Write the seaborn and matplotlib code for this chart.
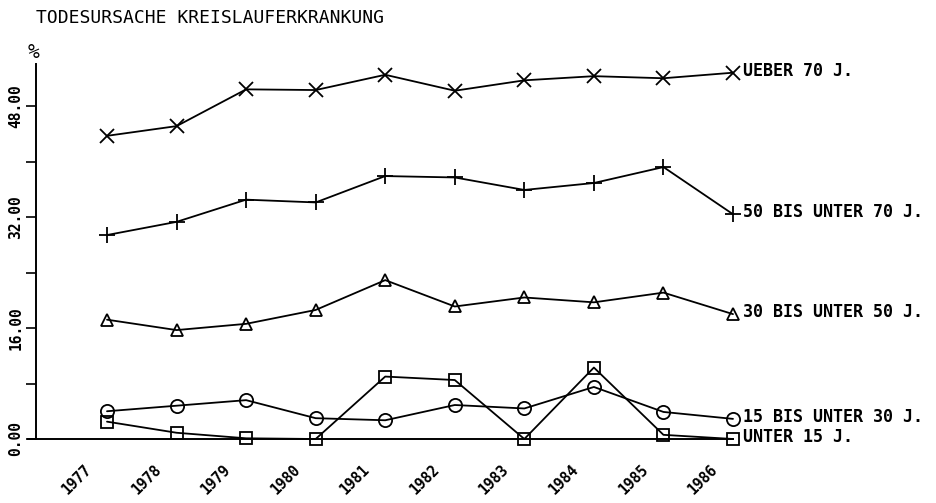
import matplotlib
matplotlib.use("Agg")
import pandas as pd
import matplotlib.pyplot as plt
from matplotlib.transforms import ScaledTranslation
import seaborn as sns

# data (percent of deaths)
years = [1977, 1978, 1979, 1980, 1981, 1982, 1983, 1984, 1985, 1986]
year_labels = ["1977", "1978", "1979", "1980", "1981", "1982", "1983", "1984", "1985", "1986"]
ueber_70 = [43.7, 45.1, 50.4, 50.3, 52.5, 50.2, 51.7, 52.3, 52.0, 52.8]
bis_unter_70 = [29.4, 31.3, 34.5, 34.1, 37.9, 37.7, 35.9, 36.9, 39.2, 32.4]
bis_unter_50 = [17.2, 15.7, 16.6, 18.6, 22.9, 19.1, 20.4, 19.7, 21.1, 18.0]
bis_unter_30 = [4.0, 4.8, 5.6, 3.0, 2.7, 4.9, 4.4, 7.5, 3.9, 2.9]
unter_15 = [2.5, 0.9, 0.1, 0.0, 9.0, 8.5, 0.0, 10.3, 0.6, 0.0]
series_names = ["UEBER 70 J.", "50 BIS UNTER 70 J.", "30 BIS UNTER 50 J.",
                "15 BIS UNTER 30 J.", "UNTER 15 J."]
y_ticks = [0, 8, 16, 24, 32, 40, 48]
y_tick_labels = ["0.00", "", "16.00", "", "32.00", "", "48.00"]
title = "TODESURSACHE KREISLAUFERKRANKUNG"

df = pd.DataFrame({"year": years})
for name, vals in zip(series_names, [ueber_70, bis_unter_70, bis_unter_50, bis_unter_30, unter_15]):
    df[name] = vals
long = df.melt(id_vars="year", var_name="gruppe", value_name="prozent")

markers = {"UEBER 70 J.": ("x", 10.5), "50 BIS UNTER 70 J.": ("+", 11),
           "30 BIS UNTER 50 J.": ("^", 9), "15 BIS UNTER 30 J.": ("o", 9.5),
           "UNTER 15 J.": ("s", 9)}

sns.set_style("white")
plt.rcParams["font.family"] = ["DejaVu Sans Mono", "DejaVu Sans"]
for k in ["text.color", "axes.edgecolor", "xtick.color", "ytick.color", "axes.labelcolor"]:
    plt.rcParams[k] = "black"

W, H = 936, 503
fig = plt.figure(figsize=(W / 100, H / 100), dpi=100)
# axes box in pixels: left 28, right 733, bottom 439, top 40
ax = fig.add_axes([28 / W, 1 - 439 / H, (733 - 28) / W, (439 - 40) / H])

for name in series_names:
    sub = long[long["gruppe"] == name]
    m, ms = markers[name]
    sns.lineplot(data=sub, x="year", y="prozent", ax=ax, color="black",
                 marker=m, markersize=ms, markerfacecolor="none",
                 markeredgecolor="black", markeredgewidth=1.3,
                 linewidth=1.3, clip_on=False, legend=False)
    last = sub.iloc[-1]
    ax.annotate(name, (last["year"], last["prozent"]), xytext=(7.5, 1.5),
                textcoords="offset points", ha="left", va="center",
                fontsize=12, fontweight="bold", annotation_clip=False)

px_per_year = (733 - 107) / 9
ax.set_xlim(1977 - (107 - 28) / px_per_year, 1986)
ax.set_ylim(0, (439 - 40) / (333 / 48))

for s in ["top", "right"]:
    ax.spines[s].set_visible(False)
ax.spines["bottom"].set_linewidth(1.4)
ax.spines["left"].set_linewidth(1.4)
ax.spines["left"].set_position(("data", 1977 - (107 - 36) / px_per_year))
ax.spines["left"].set_bounds(0, 54)

ax.set_yticks(y_ticks)
ax.set_yticklabels(y_tick_labels, rotation=90, va="center", fontsize=10.5, fontweight="bold")
ax.tick_params(axis="y", direction="out", length=7, width=1.2, pad=2, left=True)

ax.set_xticks(years)
ax.set_xticklabels(year_labels, rotation=45, ha="right", va="top",
                   rotation_mode="anchor", fontsize=10.5, fontweight="bold")
ax.tick_params(axis="x", length=0, pad=0)
shift = ScaledTranslation(-0.23, -0.23, fig.dpi_scale_trans)
for lab in ax.get_xticklabels():
    lab.set_transform(lab.get_transform() + shift)

ax.set_xlabel("")
ax.set_ylabel("")
ax.grid(False)

fig.text(34 / W, 1 - 52 / H, "%", ha="center", va="center", fontsize=14)
fig.text(36 / W, 1 - 18 / H, title, ha="left", va="center", fontsize=13)

fig.savefig("out.png", dpi=100)
